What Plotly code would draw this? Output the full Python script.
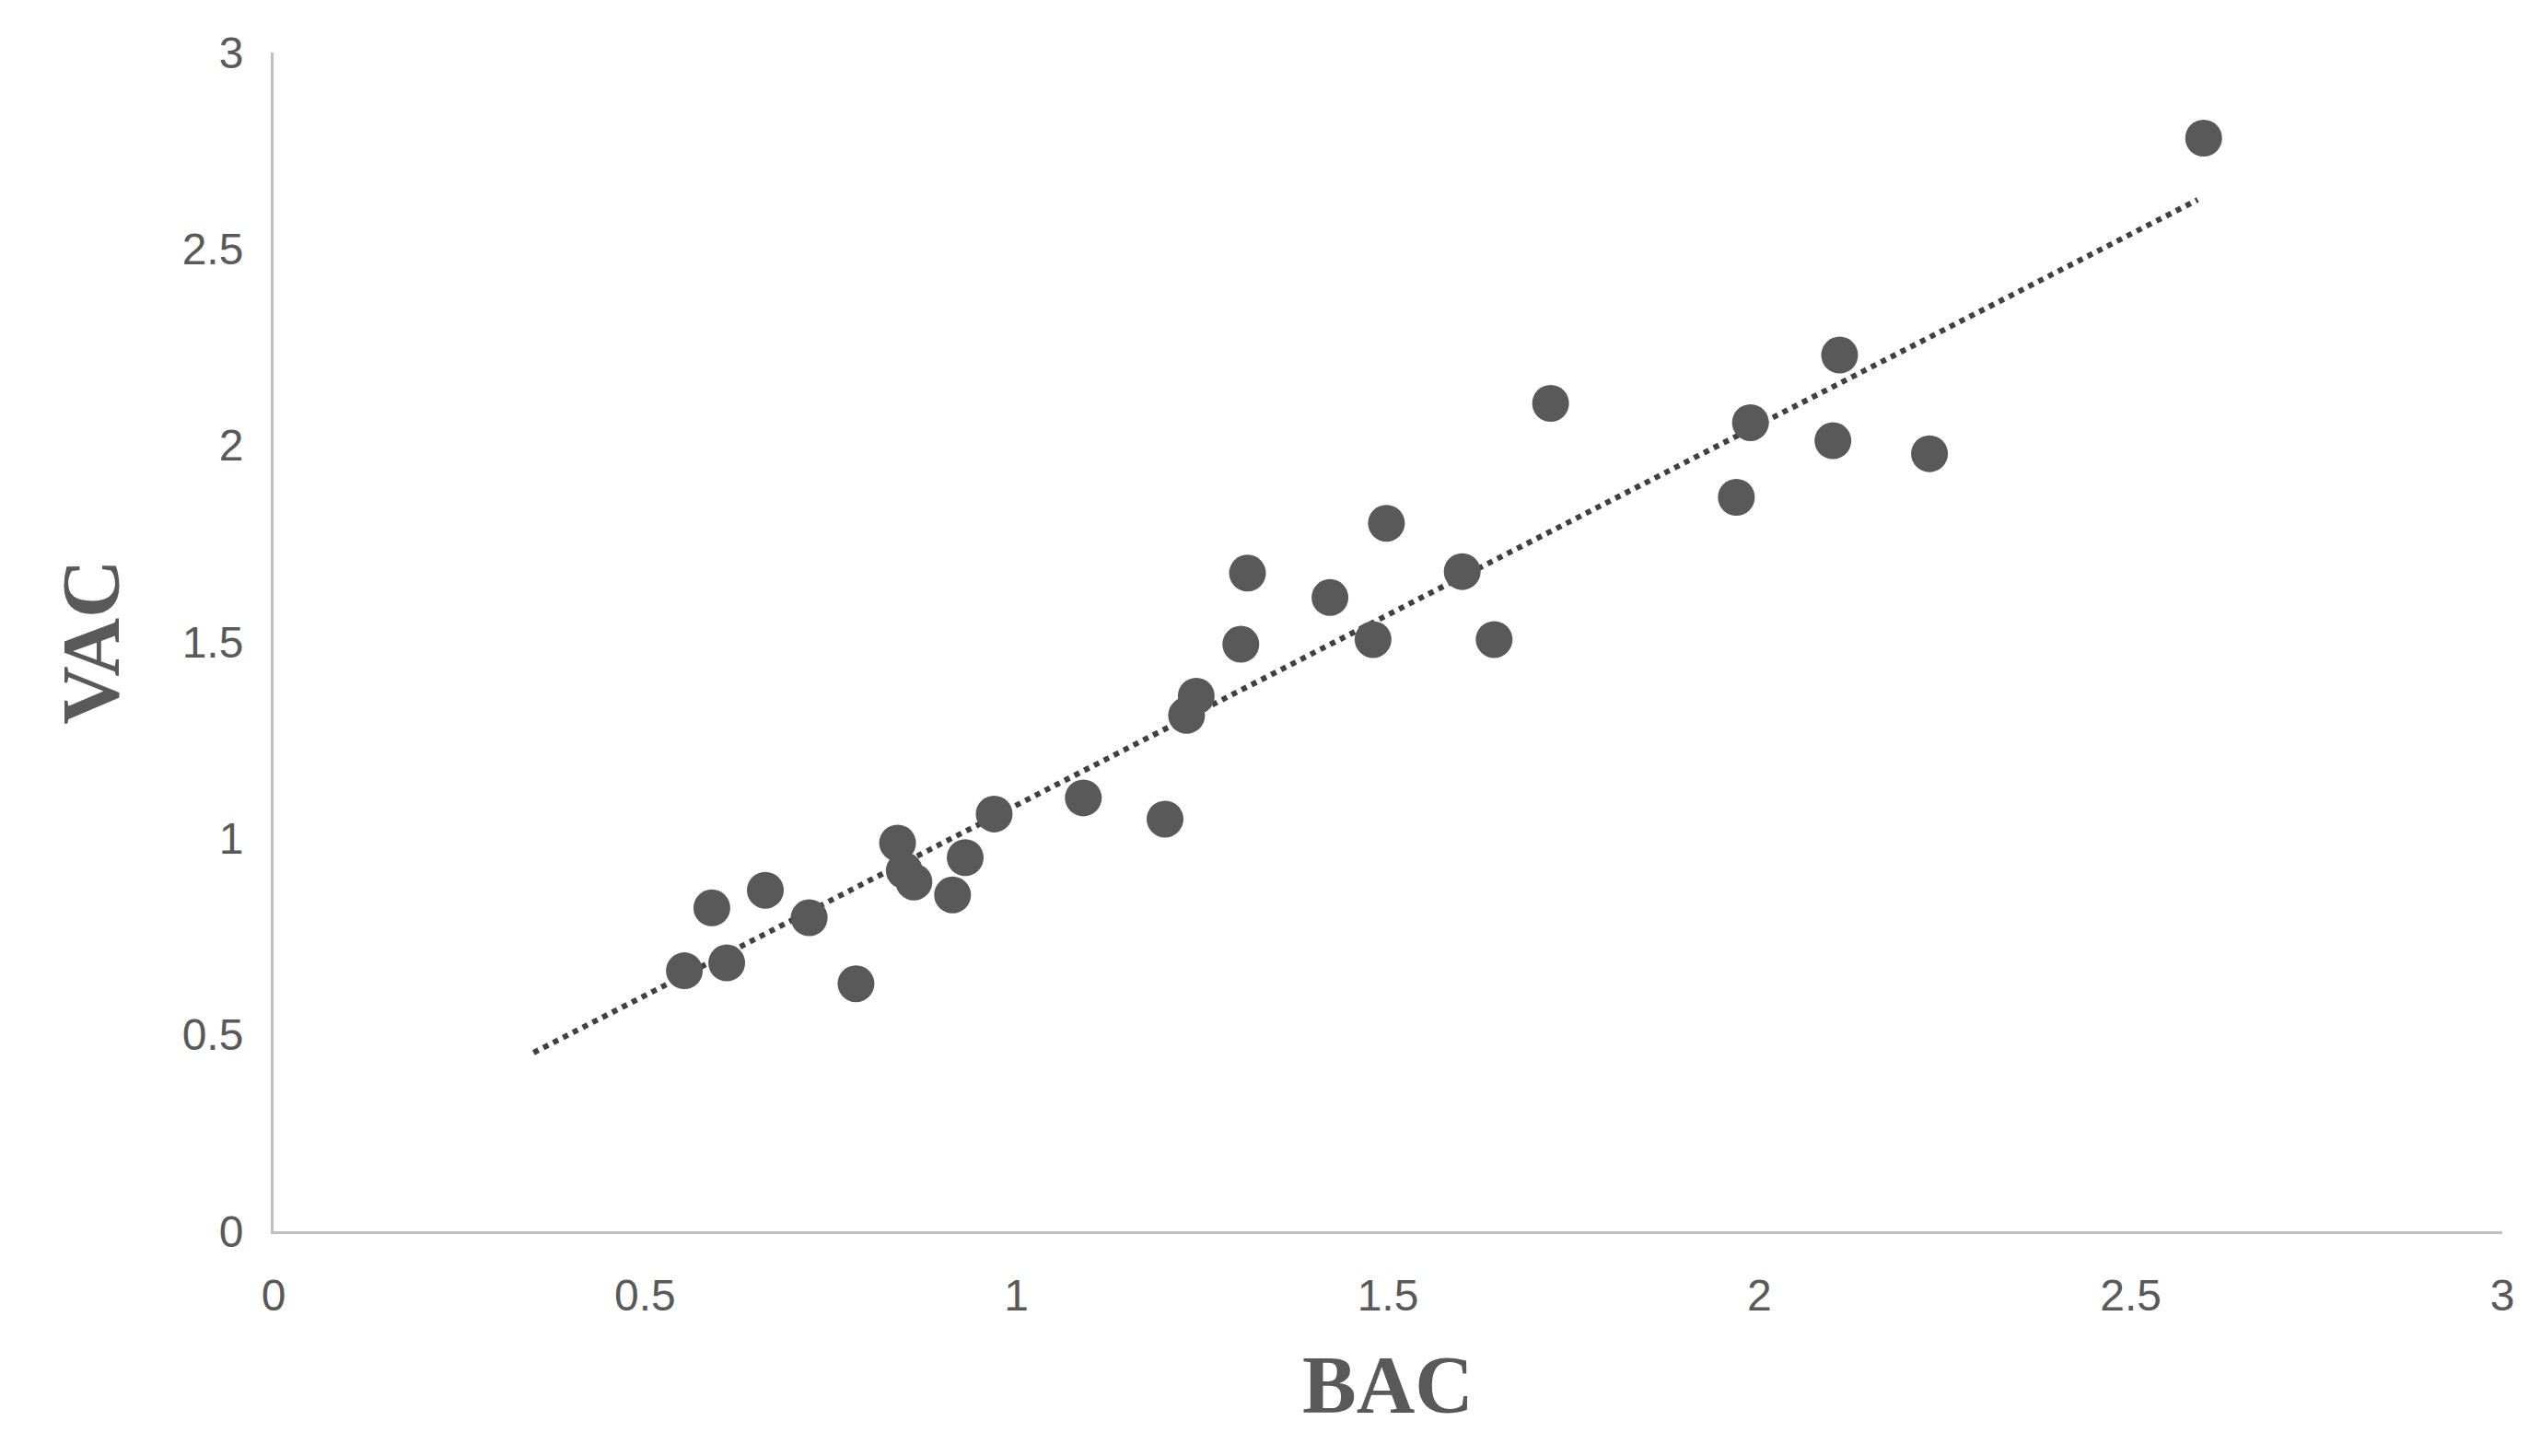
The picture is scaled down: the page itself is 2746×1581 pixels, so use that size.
import numpy as np
import plotly.graph_objects as go

bac = [0.553,0.590,0.610,0.662,0.721,0.784,0.840,0.849,0.862,0.914,0.931,0.970,1.090,1.200,1.229,1.242,
       1.302,1.311,1.422,1.480,1.498,1.600,1.643,1.719,1.969,1.988,2.099,2.108,2.229,2.598]
vac = [0.663,0.823,0.683,0.868,0.798,0.630,0.988,0.918,0.889,0.856,0.951,1.062,1.103,1.049,1.313,1.362,
       1.494,1.675,1.613,1.506,1.802,1.679,1.506,2.107,1.868,2.058,2.012,2.230,1.979,2.782]
trend_x = [0.35, 2.59]

slope, icpt = np.polyfit(bac, vac, 1)
ty = [slope*x + icpt for x in trend_x]

fig = go.Figure()
fig.add_trace(go.Scatter(x=trend_x, y=ty, mode="lines",
                         line=dict(color="#404040", width=6, dash="dot"), showlegend=False))
fig.add_trace(go.Scatter(x=bac, y=vac, mode="markers",
                         marker=dict(size=40, color="#595959"), showlegend=False))

axis_common = dict(range=[0, 3], dtick=0.5, showgrid=False, zeroline=False,
                   showline=True, linecolor="#bfbfbf", linewidth=3,
                   tickfont=dict(family="Liberation Sans", size=48, color="#595959"),
                   ticks="", ticklen=0)
fig.update_xaxes(**axis_common, title=dict(text="BAC", standoff=40,
                 font=dict(family="Liberation Serif", size=88, color="#595959", weight="bold")))
fig.update_yaxes(**axis_common, title=dict(text="VAC", standoff=40,
                 font=dict(family="Liberation Serif", size=88, color="#595959", weight="bold")))
fig.update_xaxes(ticklabelstandoff=25)
fig.update_yaxes(ticklabelstandoff=20)
fig.update_layout(width=2746, height=1581, plot_bgcolor="white", paper_bgcolor="white",
                  margin=dict(l=289, r=37, t=49, b=252))
fig.write_html("out.html")
